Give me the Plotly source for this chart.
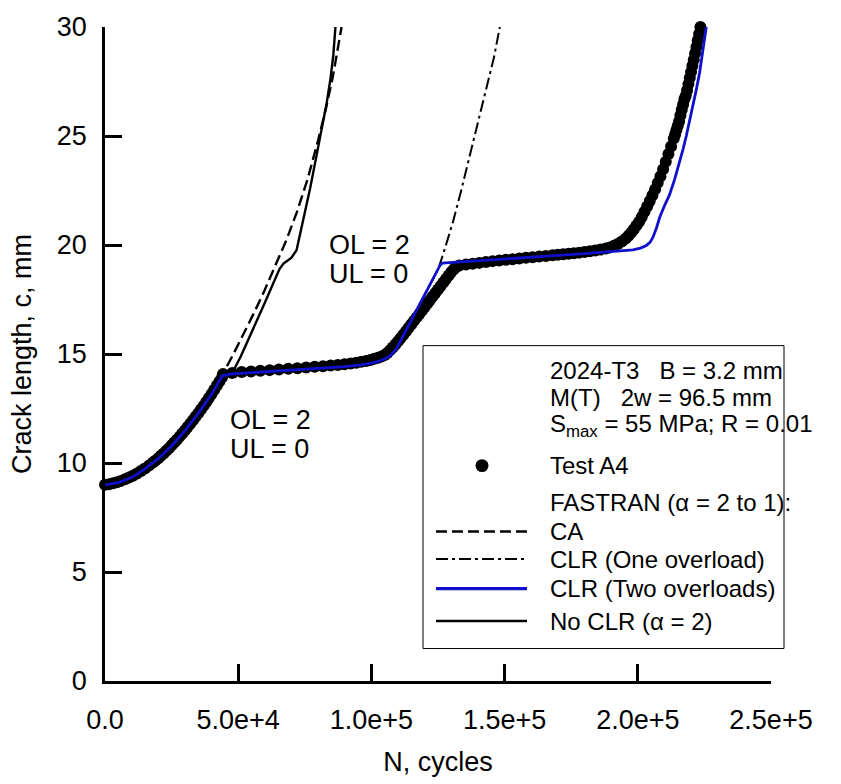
import plotly.graph_objects as go

# ---------------- data ----------------
test_N = [0, 1500, 3000, 4500, 6000, 7500, 9000, 10500, 12000, 13500, 15000, 16500,
          18000, 19000, 20000, 21000, 22000, 23000, 24000, 25000, 26000, 27000, 28000,
          29000, 30000, 31000, 32000, 33000, 34000, 35000, 36000, 37000, 38000, 39000,
          40000, 41000, 42000, 43000, 44000, 44300,
          47800, 51300, 54800, 58300, 61800, 65300, 68800, 72200, 75500, 78700, 81800,
          84700, 87400, 89900, 92200, 94300, 96200, 98000, 99600, 101100, 102500,
          103800, 105000,
          106000, 107000, 108000, 109000, 110000, 111000, 112000, 113000, 114000,
          115000, 116000, 117000, 118000, 119000, 120000, 121000, 122000, 123000,
          124000, 125000, 126000, 127000, 128000, 129000, 130000, 131000, 132000, 133000,
          135500, 138000, 140500, 143000, 145500, 148000, 150500, 153000, 155500,
          158000, 160500, 163000, 165500, 168000, 170000, 172000, 174000, 176000,
          178000, 180000, 182000, 184000, 186000, 188000, 189500, 191000, 192500,
          194000, 195500,
          196500, 197500, 198500, 199500, 200500, 201500, 202500, 203500, 204500,
          205500, 206500, 207500, 208500, 209500, 210500, 211500, 212500, 213500,
          214000, 214500, 215000, 215500, 216000, 216500, 217000, 217500, 218000,
          218500, 219000, 219500, 220000, 220500, 221000, 221500, 222000, 222500,
          223000, 223500]
test_c = [9.00, 9.03, 9.07, 9.12, 9.18, 9.25, 9.33, 9.42, 9.52, 9.63, 9.75, 9.88,
          10.02, 10.12, 10.22, 10.33, 10.44, 10.56, 10.68, 10.81, 10.94, 11.07, 11.21,
          11.35, 11.50, 11.65, 11.80, 11.96, 12.12, 12.28, 12.45, 12.62, 12.80, 12.98,
          13.17, 13.36, 13.55, 13.75, 13.95, 14.08,
          14.13, 14.17, 14.20, 14.23, 14.26, 14.29, 14.32, 14.35, 14.38, 14.41, 14.44,
          14.47, 14.50, 14.53, 14.56, 14.60, 14.64, 14.68, 14.73, 14.78, 14.83,
          14.89, 14.95,
          15.05, 15.17, 15.30, 15.44, 15.58, 15.73, 15.88, 16.04, 16.20,
          16.36, 16.52, 16.68, 16.84, 17.00, 17.16, 17.32, 17.48, 17.64,
          17.80, 17.96, 18.12, 18.28, 18.44, 18.60, 18.76, 18.90, 19.00, 19.06,
          19.10, 19.14, 19.18, 19.22, 19.26, 19.29, 19.32, 19.35, 19.38,
          19.41, 19.44, 19.47, 19.50, 19.53, 19.55, 19.58, 19.60, 19.62,
          19.65, 19.68, 19.71, 19.75, 19.79, 19.84, 19.89, 19.96, 20.05,
          20.16, 20.30,
          20.42, 20.56, 20.72, 20.89, 21.07, 21.28, 21.52, 21.77, 22.02,
          22.28, 22.56, 22.85, 23.15, 23.48, 23.82, 24.17, 24.52, 24.88,
          25.07, 25.27, 25.47, 25.68, 25.95, 26.20, 26.45, 26.70, 26.85,
          27.10, 27.38, 27.66, 27.94, 28.22, 28.50, 28.79, 29.08, 29.38,
          29.68, 30.00]

ca_N = [0, 5000, 10000, 15000, 20000, 25000, 30000, 35000, 40000, 44300, 48000, 52000,
        56000, 60000, 64000, 68000, 72000, 76000, 80000, 83000, 85500, 87500, 88800]
ca_c = [9.0, 9.1, 9.35, 9.75, 10.2, 10.8, 11.5, 12.3, 13.2, 14.1, 14.95, 15.9,
        16.9, 17.95, 19.05, 20.2, 21.5, 23.0, 24.8, 26.3, 27.7, 29.0, 30.0]

clr1_N = [0, 5000, 10000, 15000, 20000, 25000, 30000, 35000, 40000, 44000, 47000, 52000,
          60000, 70000, 80000, 90000, 96000, 100000, 103000, 105500, 107500, 109400,
          112000, 115000, 118000, 121000, 124000, 125000, 127000, 130600, 133500,
          136900, 140000, 143300, 146000, 148200]
clr1_c = [9.0, 9.1, 9.33, 9.73, 10.2, 10.78, 11.48, 12.28, 13.15, 14.0, 14.08, 14.12,
          14.17, 14.24, 14.32, 14.42, 14.5, 14.58, 14.68, 14.8, 14.97, 15.25,
          15.85, 16.55, 17.25, 17.95, 18.65, 18.88, 19.6, 21.05, 22.4,
          24.05, 25.6, 27.2, 28.6, 30.0]

clr2_N = [0, 5000, 10000, 15000, 20000, 25000, 30000, 35000, 40000, 44000, 47000, 52000,
          60000, 70000, 80000, 90000, 96000, 100000, 103000, 105500, 107500, 109400,
          112000, 115000, 118000, 121000, 124000, 125700, 126600, 132000, 140000,
          150000, 160000, 170000, 180000, 188000, 193000, 198200, 201000, 203200,
          204600, 205700, 207000, 208200, 210000, 211900, 213800, 215700, 217000,
          218200, 219500, 220700, 222000, 223200, 224500, 225700]
clr2_c = [9.0, 9.1, 9.33, 9.73, 10.2, 10.78, 11.48, 12.28, 13.15, 14.0, 14.08, 14.12,
          14.17, 14.24, 14.32, 14.42, 14.5, 14.58, 14.68, 14.8, 14.97, 15.25,
          15.85, 16.55, 17.25, 17.95, 18.65, 19.05, 19.17, 19.21, 19.27,
          19.35, 19.43, 19.52, 19.6, 19.68, 19.73, 19.78, 19.86, 19.98,
          20.12, 20.36, 20.78, 21.26, 21.8, 22.3, 23.0, 23.8, 24.4,
          25.0, 25.7, 26.4, 27.15, 27.9, 28.9, 30.0]

noclr_N = [0, 5000, 10000, 15000, 20000, 25000, 30000, 35000, 40000, 44000, 46000, 48500,
           51000, 54000, 57000, 60000, 63000, 65500, 67000, 68500, 70000, 71900, 74400,
           77000, 79400, 81500, 83200, 84600, 85700, 86500]
noclr_c = [9.0, 9.1, 9.33, 9.73, 10.2, 10.78, 11.48, 12.28, 13.15, 14.0, 14.1, 14.3,
           14.9, 15.7, 16.5, 17.35, 18.2, 18.9, 19.15, 19.28, 19.42, 19.76, 21.1,
           22.6, 24.1, 25.4, 26.5, 27.6, 28.7, 30.0]

x_tickvals = [0, 50000, 100000, 150000, 200000, 250000]
x_ticktext = ["0.0", "5.0e+4", "1.0e+5", "1.5e+5", "2.0e+5", "2.5e+5"]
y_tickvals = [0, 5, 10, 15, 20, 25, 30]

header_lines = ["2024-T3\u00a0\u00a0\u00a0B = 3.2 mm",
                "M(T)\u00a0\u00a0\u00a02w = 96.5 mm",
                "S<sub>max</sub> = 55 MPa; R = 0.01"]
legend_labels = ["Test A4", "FASTRAN (\u03b1 = 2 to 1):", "CA", "CLR (One overload)",
                 "CLR (Two overloads)", "No CLR (\u03b1 = 2)"]

# ---------------- layout helpers ----------------
W, H = 841, 784
ML, MR, MT, MB = 105, 70, 23, 96
PW, PH = W - ML - MR, H - MT - MB
FONT = "Liberation Sans, Arial, sans-serif"
BLUE = "#1010CC"
DASH_CA = "11px,5px"
DASH_DD = "12px,4px,3px,4px"


def px(x):
    return (x - ML) / PW


def py(y):
    return (H - MB - y) / PH


fig = go.Figure()
fig.add_trace(go.Scatter(x=test_N, y=test_c, mode="markers", name="Test A4",
                         marker=dict(size=12, color="black", line=dict(width=0)),
                         cliponaxis=False, showlegend=False))
fig.add_trace(go.Scatter(x=ca_N, y=ca_c, mode="lines", name="CA",
                         line=dict(color="black", width=2.4, dash=DASH_CA), showlegend=False))
fig.add_trace(go.Scatter(x=clr1_N, y=clr1_c, mode="lines", name="CLR (One overload)",
                         line=dict(color="black", width=2, dash=DASH_DD), showlegend=False))
fig.add_trace(go.Scatter(x=noclr_N, y=noclr_c, mode="lines", name="No CLR (a = 2)",
                         line=dict(color="black", width=2.4), showlegend=False))
fig.add_trace(go.Scatter(x=clr2_N, y=clr2_c, mode="lines", name="CLR (Two overloads)",
                         line=dict(color=BLUE, width=2.8), showlegend=False))

shapes = []
annotations = []

# legend box
LB_L, LB_R, LB_T, LB_B = 423, 784, 347, 655
shapes.append(dict(type="rect", xref="paper", yref="paper",
                   x0=px(LB_L), x1=px(LB_R), y0=py(LB_B), y1=py(LB_T),
                   line=dict(color="black", width=1), fillcolor="white", layer="above"))
TEXT_X = 548
header_y = [372, 400, 428]
row_y = [469, 506, 536, 564, 594, 627]
for t, yy in zip(header_lines, header_y):
    annotations.append(dict(text=t, x=px(TEXT_X), y=py(yy), xref="paper", yref="paper",
                            xanchor="left", yanchor="middle", showarrow=False,
                            font=dict(size=24, family=FONT, color="black")))
for t, yy in zip(legend_labels, row_y):
    annotations.append(dict(text=t, x=px(TEXT_X), y=py(yy), xref="paper", yref="paper",
                            xanchor="left", yanchor="middle", showarrow=False,
                            font=dict(size=24, family=FONT, color="black")))
# legend samples
SYM_L, SYM_R = 436, 527
shapes.append(dict(type="circle", xref="paper", yref="paper",
                   x0=px(482 - 6.5), x1=px(482 + 6.5), y0=py(row_y[0] + 6.5), y1=py(row_y[0] - 6.5),
                   line=dict(color="black", width=0), fillcolor="black", layer="above"))
line_styles = [(row_y[2], "black", 2.6, DASH_CA), (row_y[3], "black", 2, DASH_DD),
               (row_y[4], BLUE, 3.2, "solid"), (row_y[5], "black", 2.4, "solid")]
for yy, col, wd, ds in line_styles:
    shapes.append(dict(type="line", xref="paper", yref="paper",
                       x0=px(SYM_L), x1=px(SYM_R), y0=py(yy), y1=py(yy),
                       line=dict(color=col, width=wd, dash=ds), layer="above"))

# in-plot notes
for txt, xx, yy in [("OL = 2", 83300, 20.0), ("UL = 0", 83300, 18.68),
                    ("OL = 2", 46100, 11.95), ("UL = 0", 46100, 10.65)]:
    annotations.append(dict(text=txt, x=xx, y=yy, xref="x", yref="y",
                            xanchor="left", yanchor="middle", showarrow=False,
                            font=dict(size=27, family=FONT, color="black")))

fig.update_layout(
    width=W, height=H,
    margin=dict(l=ML, r=MR, t=MT, b=MB, pad=0),
    paper_bgcolor="white", plot_bgcolor="white",
    font=dict(family=FONT, color="black"),
    showlegend=False,
    shapes=shapes, annotations=annotations,
    xaxis=dict(range=[0, 250000], tickvals=x_tickvals, ticktext=x_ticktext,
               showgrid=False, zeroline=False, showline=True, linecolor="black",
               linewidth=2.5, ticks="inside", ticklen=17, tickwidth=2.5, tickcolor="black",
               tickfont=dict(size=27, family=FONT, color="black"), ticklabelstandoff=13,
               title=dict(text="N, cycles", font=dict(size=27, family=FONT, color="black"),
                          standoff=18)),
    yaxis=dict(range=[0, 30], tickvals=y_tickvals,
               showgrid=False, zeroline=False, showline=True, linecolor="black",
               linewidth=2.5, ticks="inside", ticklen=17, tickwidth=2.5, tickcolor="black",
               tickfont=dict(size=27, family=FONT, color="black"), ticklabelstandoff=10,
               title=dict(text="Crack length, c, mm",
                          font=dict(size=27, family=FONT, color="black"), standoff=18)),
)

fig.write_html("out.html", config={"displayModeBar": False})
